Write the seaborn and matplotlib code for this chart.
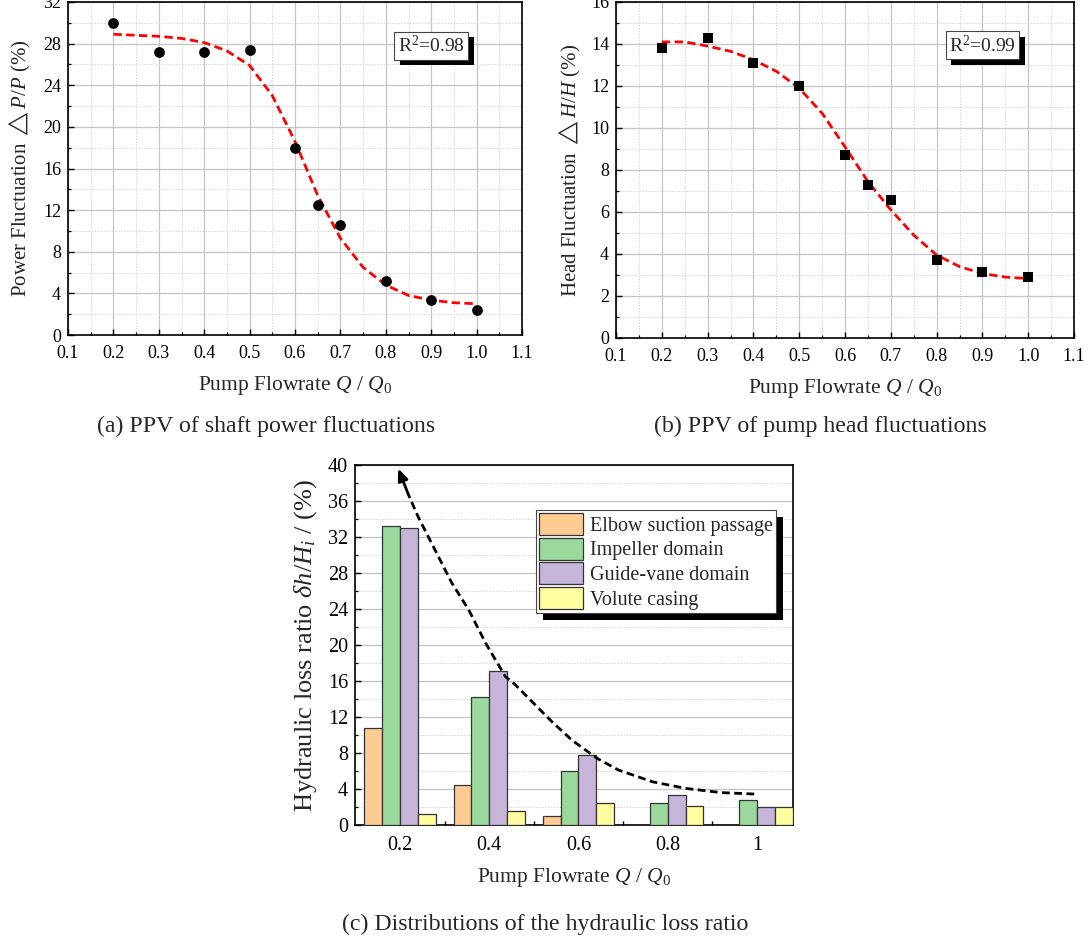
import numpy as np
import pandas as pd
import matplotlib
matplotlib.use("Agg")
import matplotlib.pyplot as plt
import matplotlib.patheffects as pe
from matplotlib.ticker import MultipleLocator, FixedLocator
import seaborn as sns

# ---------------- data ----------------
# (a) shaft power fluctuation PPV
q_a = [0.2, 0.3, 0.4, 0.5, 0.6, 0.65, 0.7, 0.8, 0.9, 1.0]
power_fluct = [30.0, 27.2, 27.2, 27.4, 18.0, 12.5, 10.6, 5.2, 3.4, 2.4]
# fitted curve for (a)
fit_q_a = [0.2, 0.25, 0.3, 0.35, 0.4, 0.45, 0.5, 0.55, 0.6, 0.65, 0.7, 0.75, 0.8, 0.85, 0.9, 0.95, 1.0]
fit_power = [28.9, 28.8, 28.7, 28.5, 28.1, 27.3, 25.9, 23.0, 18.6, 13.4, 9.3, 6.5, 4.8, 3.8, 3.35, 3.1, 3.0]

# (b) pump head fluctuation PPV
q_b = [0.2, 0.3, 0.4, 0.5, 0.6, 0.65, 0.7, 0.8, 0.9, 1.0]
head_fluct = [13.8, 14.3, 13.1, 12.0, 8.7, 7.3, 6.55, 3.7, 3.15, 2.9]
fit_q_b = [0.2, 0.25, 0.3, 0.35, 0.4, 0.45, 0.5, 0.55, 0.6, 0.65, 0.7, 0.75, 0.8, 0.85, 0.9, 0.95, 1.0]
fit_head = [14.1, 14.1, 13.9, 13.65, 13.25, 12.7, 11.9, 10.7, 9.1, 7.45, 6.1, 4.9, 3.95, 3.4, 3.07, 2.9, 2.83]

# (c) hydraulic loss ratio
flow_labels = ["0.2", "0.4", "0.6", "0.8", "1"]
domains = ["Elbow suction passage", "Impeller domain", "Guide-vane domain", "Volute casing"]
elbow = [10.8, 4.4, 1.05, 0.05, 0.05]
impeller = [33.2, 14.2, 6.05, 2.5, 2.8]
guide_vane = [33.0, 17.1, 7.8, 3.35, 2.05]
volute = [1.2, 1.55, 2.5, 2.1, 1.95]
# trend arrow (category index, value)
trend_x = [3.97, 3.6, 3.2, 2.83, 2.45, 2.21, 1.93, 1.70, 1.48, 1.29, 1.18, 0.96, 0.77, 0.58, 0.39, 0.2, 0.09]
trend_y = [3.44, 3.6, 4.07, 4.8, 6.1, 7.4, 9.4, 11.5, 13.7, 15.6, 16.5, 20.2, 23.9, 26.9, 30.6, 34.3, 36.8]
trend_tip = (-0.02, 39.6)

colors = ["#FECB92", "#9AD89C", "#C6B4D9", "#FEFDA0"]

# ---------------- style ----------------
sns.set_style("ticks")
plt.rcParams["font.family"] = ["Liberation Serif", "DejaVu Serif"]
plt.rcParams["mathtext.fontset"] = "custom"
plt.rcParams["mathtext.rm"] = "Liberation Serif"
plt.rcParams["mathtext.it"] = "Liberation Serif:italic"
plt.rcParams["mathtext.bf"] = "Liberation Serif:bold"
plt.rcParams["mathtext.fallback"] = "stix"
plt.rcParams["axes.linewidth"] = 1.2
plt.rcParams["axes.edgecolor"] = "black"

W, H = 1089, 941
fig = plt.figure(figsize=(W / 100, H / 100), dpi=100)
fig.patch.set_facecolor("white")


def px_axes(left, right, top, bottom):
    return fig.add_axes([left / W, 1 - bottom / H, (right - left) / W, (bottom - top) / H])


def style_line_axes(ax, ymax, ystep):
    ax.set_xlim(0.1, 1.1)
    ax.set_ylim(0, ymax)
    ax.xaxis.set_major_locator(MultipleLocator(0.1))
    ax.xaxis.set_minor_locator(MultipleLocator(0.05))
    ax.yaxis.set_major_locator(MultipleLocator(ystep))
    ax.yaxis.set_minor_locator(MultipleLocator(ystep / 2))
    ax.set_xticklabels([f"{v:.1f}" for v in ax.get_xticks()])
    ax.grid(True, which="major", color="#c4c4c4", lw=0.9, ls="-")
    ax.grid(True, which="minor", color="#d6d6d6", lw=0.7, ls=(0, (1.5, 1.5)))
    ax.set_axisbelow(True)
    ax.tick_params(which="both", direction="in", labelsize=13, colors="black")
    ax.tick_params(which="major", length=4, width=1)
    ax.tick_params(which="minor", length=2.5, width=0.9)
    ax.tick_params(axis="x", which="major", pad=7)
    ax.tick_params(axis="y", which="major", pad=5)
    for s in ax.spines.values():
        s.set_visible(True)
        s.set_color("black")
        s.set_linewidth(1.2)


def r2_box(ax, x, y, txt):
    t = ax.text(x, y, txt, fontsize=14, ha="center", va="center", zorder=6,
                bbox=dict(boxstyle="square,pad=0.18", fc="white", ec="#444444", lw=0.8))
    t.get_bbox_patch().set_path_effects([
        pe.SimplePatchShadow(offset=(4, -4), shadow_rgbFace="black", alpha=1.0),
        pe.Normal()])


# ---------------- (a) ----------------
ax1 = px_axes(68, 522, 2, 335)
style_line_axes(ax1, 32, 4)
sns.lineplot(x=fit_q_a, y=fit_power, ax=ax1, color="#FF0000", lw=2, ls=(0, (3, 1.6)), zorder=3)
sns.scatterplot(x=q_a, y=power_fluct, ax=ax1, color="black", marker="o", s=60,
                edgecolor="black", linewidth=0, zorder=4)
ax1.set_xlabel(r"Pump Flowrate $Q$ / $Q_0$", fontsize=15.5, labelpad=9)
ax1.set_ylabel(r"Power Fluctuation $\triangle P/P$ (%)", fontsize=15, labelpad=7)
r2_box(ax1, 0.9, 27.8, r"R$^2$=0.98")

# ---------------- (b) ----------------
ax2 = px_axes(616, 1074, 2, 338)
style_line_axes(ax2, 16, 2)
sns.lineplot(x=fit_q_b, y=fit_head, ax=ax2, color="#FF0000", lw=2, ls=(0, (3, 1.6)), zorder=3)
sns.scatterplot(x=q_b, y=head_fluct, ax=ax2, color="black", marker="s", s=50,
                edgecolor="black", linewidth=0, zorder=4)
ax2.set_xlabel(r"Pump Flowrate $Q$ / $Q_0$", fontsize=15.5, labelpad=9)
ax2.set_ylabel(r"Head Fluctuation $\triangle H/H$ (%)", fontsize=15, labelpad=6)
r2_box(ax2, 0.9, 13.95, r"R$^2$=0.99")

# ---------------- (c) ----------------
ax3 = px_axes(355, 793, 465, 825)
df = pd.DataFrame({
    "flow": flow_labels * 4,
    "domain": np.repeat(domains, len(flow_labels)),
    "value": elbow + impeller + guide_vane + volute,
})
sns.barplot(data=df, x="flow", y="value", hue="domain", order=flow_labels, hue_order=domains,
            palette=colors, saturation=1, edgecolor="#333333", linewidth=0.9, width=0.8,
            ax=ax3, zorder=3)
ax3.set_xlim(-0.505, 4.405)
ax3.set_ylim(0, 40)
ax3.yaxis.set_major_locator(MultipleLocator(4))
ax3.yaxis.set_minor_locator(MultipleLocator(2))
ax3.xaxis.set_minor_locator(FixedLocator([0.5, 1.5, 2.5, 3.5]))
ax3.grid(True, axis="y", which="major", color="#c4c4c4", lw=0.9, ls="-")
ax3.grid(True, axis="y", which="minor", color="#d6d6d6", lw=0.7, ls=(0, (1.5, 1.5)))
ax3.grid(False, axis="x", which="both")
ax3.set_axisbelow(True)
ax3.tick_params(which="both", direction="in", labelsize=14.5, colors="black")
ax3.tick_params(axis="x", which="major", length=0, pad=8)
ax3.tick_params(axis="x", which="minor", length=3, width=1)
ax3.tick_params(axis="y", which="major", length=4, width=1, pad=5)
ax3.tick_params(axis="y", which="minor", length=2.5, width=0.9)
for s in ax3.spines.values():
    s.set_visible(True)
    s.set_color("black")
    s.set_linewidth(1.2)
ax3.set_xlabel(r"Pump Flowrate $Q$ / $Q_0$", fontsize=15.5, labelpad=8)
ax3.set_ylabel(r"Hydraulic loss ratio $\delta h/H_i$ / (%)", fontsize=19, labelpad=6)

# trend arrow
ax3.plot(trend_x, trend_y, color="black", lw=2, ls=(0, (2.8, 1.6)), zorder=5)
ax3.annotate("", xy=trend_tip, xytext=(trend_x[-1], trend_y[-1]),
             arrowprops=dict(arrowstyle="-|>,head_length=0.7,head_width=0.3", color="black",
                             lw=2, shrinkA=0, shrinkB=0), zorder=5)

handles, labels = ax3.get_legend_handles_labels()
if ax3.get_legend() is not None:
    ax3.get_legend().remove()
leg = ax3.legend(handles, labels, loc="upper left", bbox_to_anchor=((536 - 355) / 438, 1 - (510 - 465) / 360),
                 fontsize=14.5, frameon=True, fancybox=False, handlelength=2.2, handleheight=1.3,
                 handletextpad=0.35, labelspacing=0.1, borderpad=0.15, borderaxespad=0)
frame = leg.get_frame()
frame.set_edgecolor("#444444")
frame.set_linewidth(0.8)
frame.set_facecolor("white")
frame.set_alpha(1)
frame.set_path_effects([pe.SimplePatchShadow(offset=(5, -5), shadow_rgbFace="black", alpha=1.0), pe.Normal()])
leg.set_zorder(7)

# ---------------- captions ----------------
fig.text(266 / W, 1 - 426 / H, "(a) PPV of shaft power fluctuations", fontsize=17.2, ha="center", va="center")
fig.text(820 / W, 1 - 426 / H, "(b) PPV of pump head fluctuations", fontsize=17.2, ha="center", va="center")
fig.text(545 / W, 1 - 924 / H, "(c) Distributions of the hydraulic loss ratio", fontsize=17.2, ha="center", va="center")

fig.savefig("out.png", dpi=100, facecolor="white")
